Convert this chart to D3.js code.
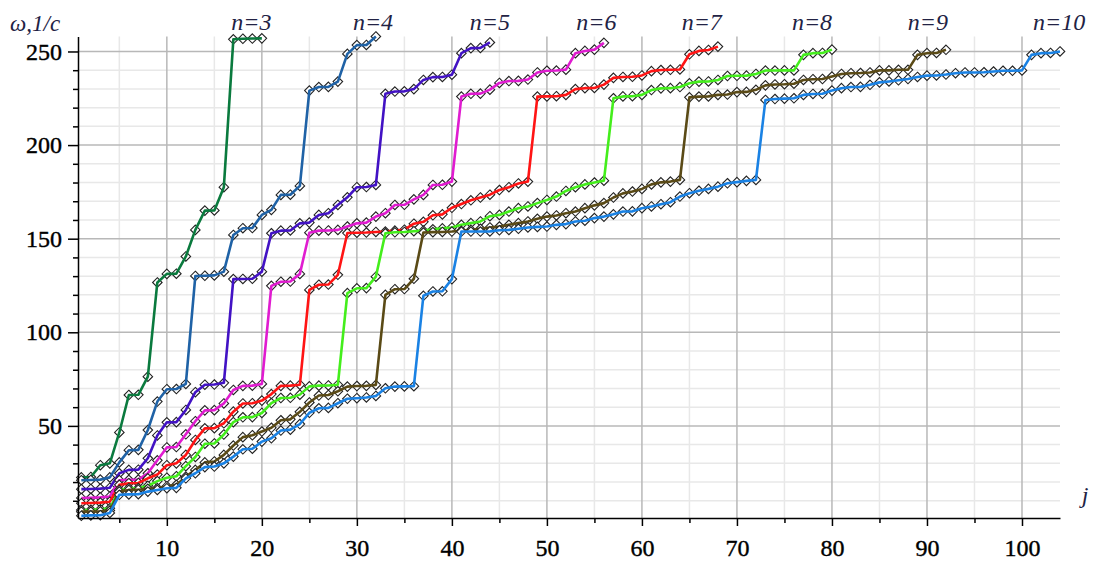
<!DOCTYPE html>
<html>
<head>
<meta charset="utf-8">
<script src="https://cdnjs.cloudflare.com/ajax/libs/d3/7.8.5/d3.min.js"></script>
<style>
  body { margin: 0; background: #fff; }
  svg text { font-family: "Liberation Serif", "Tinos", "DejaVu Serif", serif; }
</style>
</head>
<body>
<svg id="chart" width="1096" height="562"></svg>
<script>
// omega values (1/c) for each mode number j, one list per n
const w3 = [22.5, 22.7, 29, 30, 46.5, 66.5, 66.6, 76.3, 126.6, 131.2, 131.3, 140.5, 154.7, 165, 165.1, 177.5, 256.5, 256.8, 256.9, 257];
const w4 = [21, 21.1, 21.3, 22.5, 30.5, 37, 37.2, 47.8, 63, 69.6, 69.7, 72.4, 130.1, 130.2, 130.4, 132.4, 152, 155.6, 155.7, 162.7,
    165.4, 173.4, 173.5, 178.2, 229.1, 231, 231.1, 233.9, 248.7, 253.4, 253.5, 258];
const w5 = [16.2, 16.3, 16.5, 17, 24.7, 26.5, 26.6, 32.7, 44.9, 51.9, 52, 58.5, 68, 72, 72.1, 73, 128.4, 128.5, 128.6, 132.4,
    152.9, 154.3, 154.4, 158.2, 158.6, 162.7, 163.6, 168, 172.1, 177.5, 177.6, 178.7, 227.4, 228.6, 228.7, 229.9,
    234.8, 236.3, 236.4, 237.6, 249.1, 251.8, 251.9, 254.8];
const w6 = [11.5, 11.6, 11.8, 12.3, 21, 21.2, 21.3, 24.7, 31.6, 38.5, 38.7, 45.5, 52.5, 58.3, 58.4, 62, 69.2, 71.4, 71.5, 72.4,
    124.8, 127, 127.1, 131.2, 153.2, 154.3, 154.4, 154.7, 156.5, 158.2, 158.6, 161.8, 163.6, 168, 168.1, 171,
    173.4, 178.7, 178.8, 180.5, 225.9, 227.4, 227.5, 229.6, 233.2, 234.2, 234.3, 235, 238.8, 239.7, 239.8, 240.3,
    249.1, 250.3, 251, 254.6];
const w7 = [8.7, 8.8, 9, 9.5, 18.5, 19.4, 19.5, 22, 24, 29, 30, 34.5, 42.5, 48.7, 48.8, 51.4, 57.6, 62, 62.1, 63.5,
    67, 71.4, 71.5, 72, 122.6, 125.4, 125.5, 130.7, 153, 153.2, 153.3, 153.6, 153.8, 154.3, 154.8, 158,
    159, 162.5, 163, 166.5, 168.5, 170.5, 172, 173.5, 176, 177.5, 179.5, 180.5, 225.9, 226, 226.1, 226.8,
    229.9, 230.4, 230.5, 232.3, 235.9, 236.4, 236.5, 237.2, 239.5, 240.1, 240.2, 240.4, 248.5, 250.3, 250.8, 252.6];
const w8 = [5.1, 5.2, 5.5, 6, 15.8, 16.7, 16.8, 18, 20.5, 22.3, 23.1, 28.5, 33.4, 40.5, 40.6, 45.4, 52, 54.6, 54.7, 56.9,
    62.2, 64.9, 65, 66.7, 71.1, 71.5, 71.6, 72, 120.9, 123.5, 123.6, 129.7, 152.9, 153.4, 153.6, 154,
    154.3, 155, 155.5, 156, 157.4, 158.3, 159.2, 162, 162.7, 164.5, 166.3, 167.2, 169, 170.7, 172.5, 175.5,
    177.5, 179, 180, 181, 225, 226, 226.1, 226.8, 229.4, 230.3, 230.4, 231, 233, 233.9, 234, 234.8,
    236.9, 237, 237.1, 238, 239.8, 239.8, 239.9, 239.9, 248.2, 249.1, 249.2, 251];
const w9 = [4.2, 4.2, 4.4, 4.8, 14.9, 15.8, 15.9, 16.4, 16.8, 17.8, 18.5, 22.9, 26.5, 30.5, 31, 34.5, 39.5, 44, 45, 47,
    49, 53, 53.5, 57.5, 62.5, 66.2, 66.5, 68.5, 71, 71.3, 71.4, 71.9, 120, 123, 123.1, 128.6,
    153.3, 153.5, 153.6, 153.8, 154.2, 154.7, 155.3, 156, 156.5, 157.4, 158.3, 159.2, 160.6, 161.8, 162.4, 163.6,
    164.5, 166.3, 167.8, 169, 172, 174.2, 175.2, 176.6, 179, 180.1, 180.5, 181.4, 225.5, 225.9, 226, 226.8,
    227, 228.3, 228.4, 229.5, 231.9, 232.4, 232.5, 232.8, 234.8, 235.2, 235.3, 236.6, 238, 238.4, 238.5, 238.8,
    239.9, 239.9, 240.2, 240.2, 248.2, 249.1, 249.2, 250.9];
const w10 = [2.0, 2.2, 2.3, 3.5, 13.2, 13.4, 13.5, 14.9, 15.8, 16.7, 16.9, 22, 24.7, 28, 28.3, 30, 33.6, 37.5, 37.8, 41.6,
    43.4, 47.5, 48, 51, 57, 59.4, 59.6, 62.1, 64.5, 64.8, 65.2, 66, 70.1, 71, 71.1, 71.2, 119.5, 121.8, 121.9, 128.4,
    153.8, 153.8, 153.8, 153.9, 154.5, 154.7, 155.3, 156, 156.3, 156.5, 157.4, 157.8, 159.2, 159.6, 161, 161.8,
    163, 164.5, 164.6, 166.3, 167.2, 168.4, 169.5, 172.5, 174.3, 175.6, 176.6, 177.8, 179.6, 180.2, 180.9, 181.4,
    224.1, 224.6, 224.8, 225, 226.8, 227.3, 227.4, 229.1, 230.4, 231, 231.1, 232.2, 233.5, 234, 234.6, 235.3,
    236.4, 237.1, 237.2, 237.7, 238.4, 238.8, 238.8, 238.9, 239.3, 239.7, 239.7, 239.9, 248.2, 249.1, 249.2, 250];

const seriesNames = ["n=3", "n=4", "n=5", "n=6", "n=7", "n=8", "n=9", "n=10"];
const seriesValues = [w3, w4, w5, w6, w7, w8, w9, w10];
const seriesColors = ["#0a7a3e", "#1f62a6", "#4212c4", "#e01cd0", "#ff1414", "#44ee1c", "#5a4a16", "#1a82e4"];
// j where the n= label sits
const labelJ = [18.9, 31.7, 44, 55.2, 66.3, 77.9, 90.1, 103.9];

const xTicks = [10, 20, 30, 40, 50, 60, 70, 80, 90, 100];
const xTickLabels = ["10", "20", "30", "40", "50", "60", "70", "80", "90", "100"];
const xMinor = [5, 15, 25, 35, 45, 55, 65, 75, 85, 95];
const yTicks = [50, 100, 150, 200, 250];
const yTickLabels = ["50", "100", "150", "200", "250"];
const yMinor = [10, 20, 30, 40, 60, 70, 80, 90, 110, 120, 130, 140, 160, 170, 180, 190, 210, 220, 230, 240];

const serif = "'Liberation Serif', 'Tinos', 'DejaVu Serif', serif";

let svg = d3.select("#chart");

let x = d3.scaleLinear().domain([0.65, 104]).range([78, 1060]);
let y = d3.scaleLinear().domain([0.8, 258]).range([518, 36.5]);

const textColor = "#222244";

// grid
let grid = svg.append("g").attr("class", "grid");

function vLines(vals, color) {
    grid.selectAll(null).data(vals).enter().append("line")
        .attr("x1", d => x(d)).attr("x2", d => x(d))
        .attr("y1", y.range()[1]).attr("y2", y.range()[0])
        .attr("stroke", color).attr("stroke-width", 1.5);
}
function hLines(vals, color) {
    grid.selectAll(null).data(vals).enter().append("line")
        .attr("x1", x.range()[0]).attr("x2", x.range()[1])
        .attr("y1", d => y(d)).attr("y2", d => y(d))
        .attr("stroke", color).attr("stroke-width", 1.5);
}
vLines(xMinor, "#e8e8e8");
hLines(yMinor, "#e8e8e8");
vLines(xTicks, "#b8b8b8");
hLines(yTicks, "#b8b8b8");

// series: white diamonds first, the coloured line drawn across them
let line = d3.line()
    .x((d, i) => x(i + 1))
    .y(d => y(d));

let diamond = d3.symbol().type(d3.symbolDiamond2).size(58);

seriesValues.forEach((vals, k) => {
    let g = svg.append("g").attr("class", "series");
    g.selectAll(".pt")
        .data(vals)
        .enter().append("path")
        .attr("class", "pt")
        .attr("transform", (d, i) => "translate(" + x(i + 1) + "," + y(d) + ")")
        .attr("d", diamond)
        .attr("fill", "#fff")
        .attr("stroke", "#222")
        .attr("stroke-width", 1.1);
    g.append("path")
        .datum(vals)
        .attr("d", line)
        .attr("fill", "none")
        .attr("stroke", seriesColors[k])
        .attr("stroke-width", 2.6)
        .attr("stroke-linejoin", "round");
});

// axes
svg.append("g")
    .attr("transform", "translate(0," + y.range()[0] + ")")
    .call(d3.axisBottom(x).tickValues(xTicks).tickFormat((d, i) => xTickLabels[i])
        .tickSize(8).tickSizeOuter(0).tickPadding(13));
svg.append("g")
    .attr("transform", "translate(0," + y.range()[0] + ")")
    .call(d3.axisBottom(x).tickValues(xMinor).tickFormat("").tickSize(5).tickSizeOuter(0))
    .call(g => g.select(".domain").remove());

svg.append("g")
    .attr("transform", "translate(" + x.range()[0] + ",0)")
    .call(d3.axisLeft(y).tickValues(yTicks).tickFormat((d, i) => yTickLabels[i])
        .tickSize(10).tickSizeOuter(0).tickPadding(6));
svg.append("g")
    .attr("transform", "translate(" + x.range()[0] + ",0)")
    .call(d3.axisLeft(y).tickValues(yMinor).tickFormat("").tickSize(5).tickSizeOuter(0))
    .call(g => g.select(".domain").remove());

svg.selectAll(".domain").attr("stroke", "#000").attr("stroke-width", 1.5);
svg.selectAll(".tick line").attr("stroke", "#000").attr("stroke-width", 1.5);
svg.selectAll(".tick text")
    .attr("fill", "#000")
    .attr("stroke", "#000")
    .attr("stroke-width", 0.4)
    .style("font-size", "24px")
    .style("font-family", serif);

// axis titles
svg.append("text")
    .attr("x", 10).attr("y", 31)
    .attr("fill", textColor)
    .style("font-family", serif)
    .style("font-size", "23px").style("font-style", "italic")
    .text("ω,1/c");

svg.append("text")
    .attr("x", 1085).attr("y", 503)
    .attr("text-anchor", "middle")
    .attr("fill", textColor)
    .style("font-family", serif)
    .style("font-size", "24px").style("font-style", "italic")
    .text("j");

// series labels
svg.selectAll(".nlabel")
    .data(seriesNames)
    .enter().append("text")
    .attr("class", "nlabel")
    .attr("x", (d, i) => x(labelJ[i]))
    .attr("y", 30)
    .attr("text-anchor", "middle")
    .attr("fill", textColor)
    .style("font-family", serif)
    .style("font-size", "24px").style("font-style", "italic")
    .text(d => d);
</script>
</body>
</html>
